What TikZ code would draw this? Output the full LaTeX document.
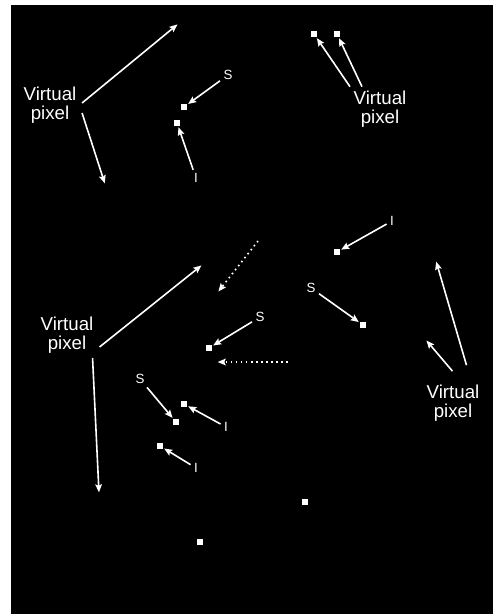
\documentclass[tikz,border=0pt]{standalone}
\usepackage{fontspec}
\setmainfont{Liberation Sans}
\usetikzlibrary{arrows.meta}
\tikzset{
  pix/.style={fill=white,inner sep=0pt,minimum size=5pt},
  vlab/.style={text=white,align=center,inner sep=0pt,font=\fontsize{14}{14}\selectfont},
  sym/.style={text=white,inner sep=2.5pt,font=\fontsize{10}{12}\selectfont},
  arr/.style={->,white,line width=1.2pt,shorten >=0.5pt},
  dotarr/.style={arr,dash pattern=on 1.2pt off 2.6pt},
}
\begin{document}
\begin{tikzpicture}[x=0.75pt,y=-0.75pt,>={Stealth[length=6pt,width=5pt,inset=1pt]}]
\useasboundingbox (0,0) rectangle (493,614);
\fill[white] (0,0) rectangle (493,614);
\fill[black] (11,5) rectangle (493,614);
% pixels
\node[pix](p1) at (184,107){};
\node[pix](p2) at (177,123){};
\node[pix](p3) at (314,34){};
\node[pix](p4) at (337,34){};
\node[pix](p5) at (337,252){};
\node[pix](p6) at (363,325){};
\node[pix](p7) at (209,348){};
\node[pix](p8) at (184,404){};
\node[pix](p9) at (176,422){};
\node[pix](p10) at (160,446){};
\node[pix](p11) at (305,502){};
\node[pix](p12) at (200,542){};
% labels
\node[vlab](vpA) at (50,105){Virtual\\pixel};
\node[vlab](vpB) at (380,109){Virtual\\pixel};
\node[vlab](vpC) at (67,335){Virtual\\pixel};
\node[vlab](vpD) at (453,403){Virtual\\pixel};
\node[sym](sA) at (228,75){S};
\node[sym](sB) at (260,317){S};
\node[sym](sC) at (311,288){S};
\node[sym](sD) at (140,379){S};
\node[sym](iA) at (196,178){I};
\node[sym](iB) at (392,221){I};
\node[sym](iC) at (226,427){I};
\node[sym](iD) at (196,468){I};
% where the virtual pixels lie
\coordinate (c1) at (178,24);
\coordinate (c2) at (105,184);
\coordinate (c3) at (202,265);
\coordinate (c4) at (99,493);
\coordinate (c5) at (436,261);
\coordinate (c6) at (426,340);
\coordinate (d1s) at (258,241);
\coordinate (d1e) at (218,292);
\coordinate (d2s) at (288,362);
\coordinate (d2e) at (217,362);
% virtual pixel arrows
\draw[arr] ([shift={(5.5,-2)}]vpA.east) -- (c1);
\draw[arr] ([shift={(5.5,8)}]vpA.east) -- (c2);
\draw[arr] ([shift={(-30,-4)}]vpB.north) -- (p3);
\draw[arr] ([shift={(-18,-4)}]vpB.north) -- (p4);
\draw[arr] ([shift={(6,12)}]vpC.east) -- (c3);
\draw[arr] ([shift={(-1,23)}]vpC.east) -- (c4);
\draw[arr] ([shift={(13.5,-19.5)}]vpD.north) -- (c5);
\draw[arr] ([shift={(-0.5,-13.5)}]vpD.north) -- (c6);
% S and I arrows
\draw[arr] (sA) -- (p1);
\draw[arr] (iA) -- (p2);
\draw[arr] (iB) -- (p5);
\draw[arr] (sC) -- (p6);
\draw[arr] (sB) -- (p7);
\draw[arr] (iC) -- (p8);
\draw[arr] (sD) -- (p9);
\draw[arr] (iD) -- (p10);
% dotted
\draw[dotarr] (d1s) -- (d1e);
\draw[dotarr] (d2s) -- (d2e);
\end{tikzpicture}
\end{document}
